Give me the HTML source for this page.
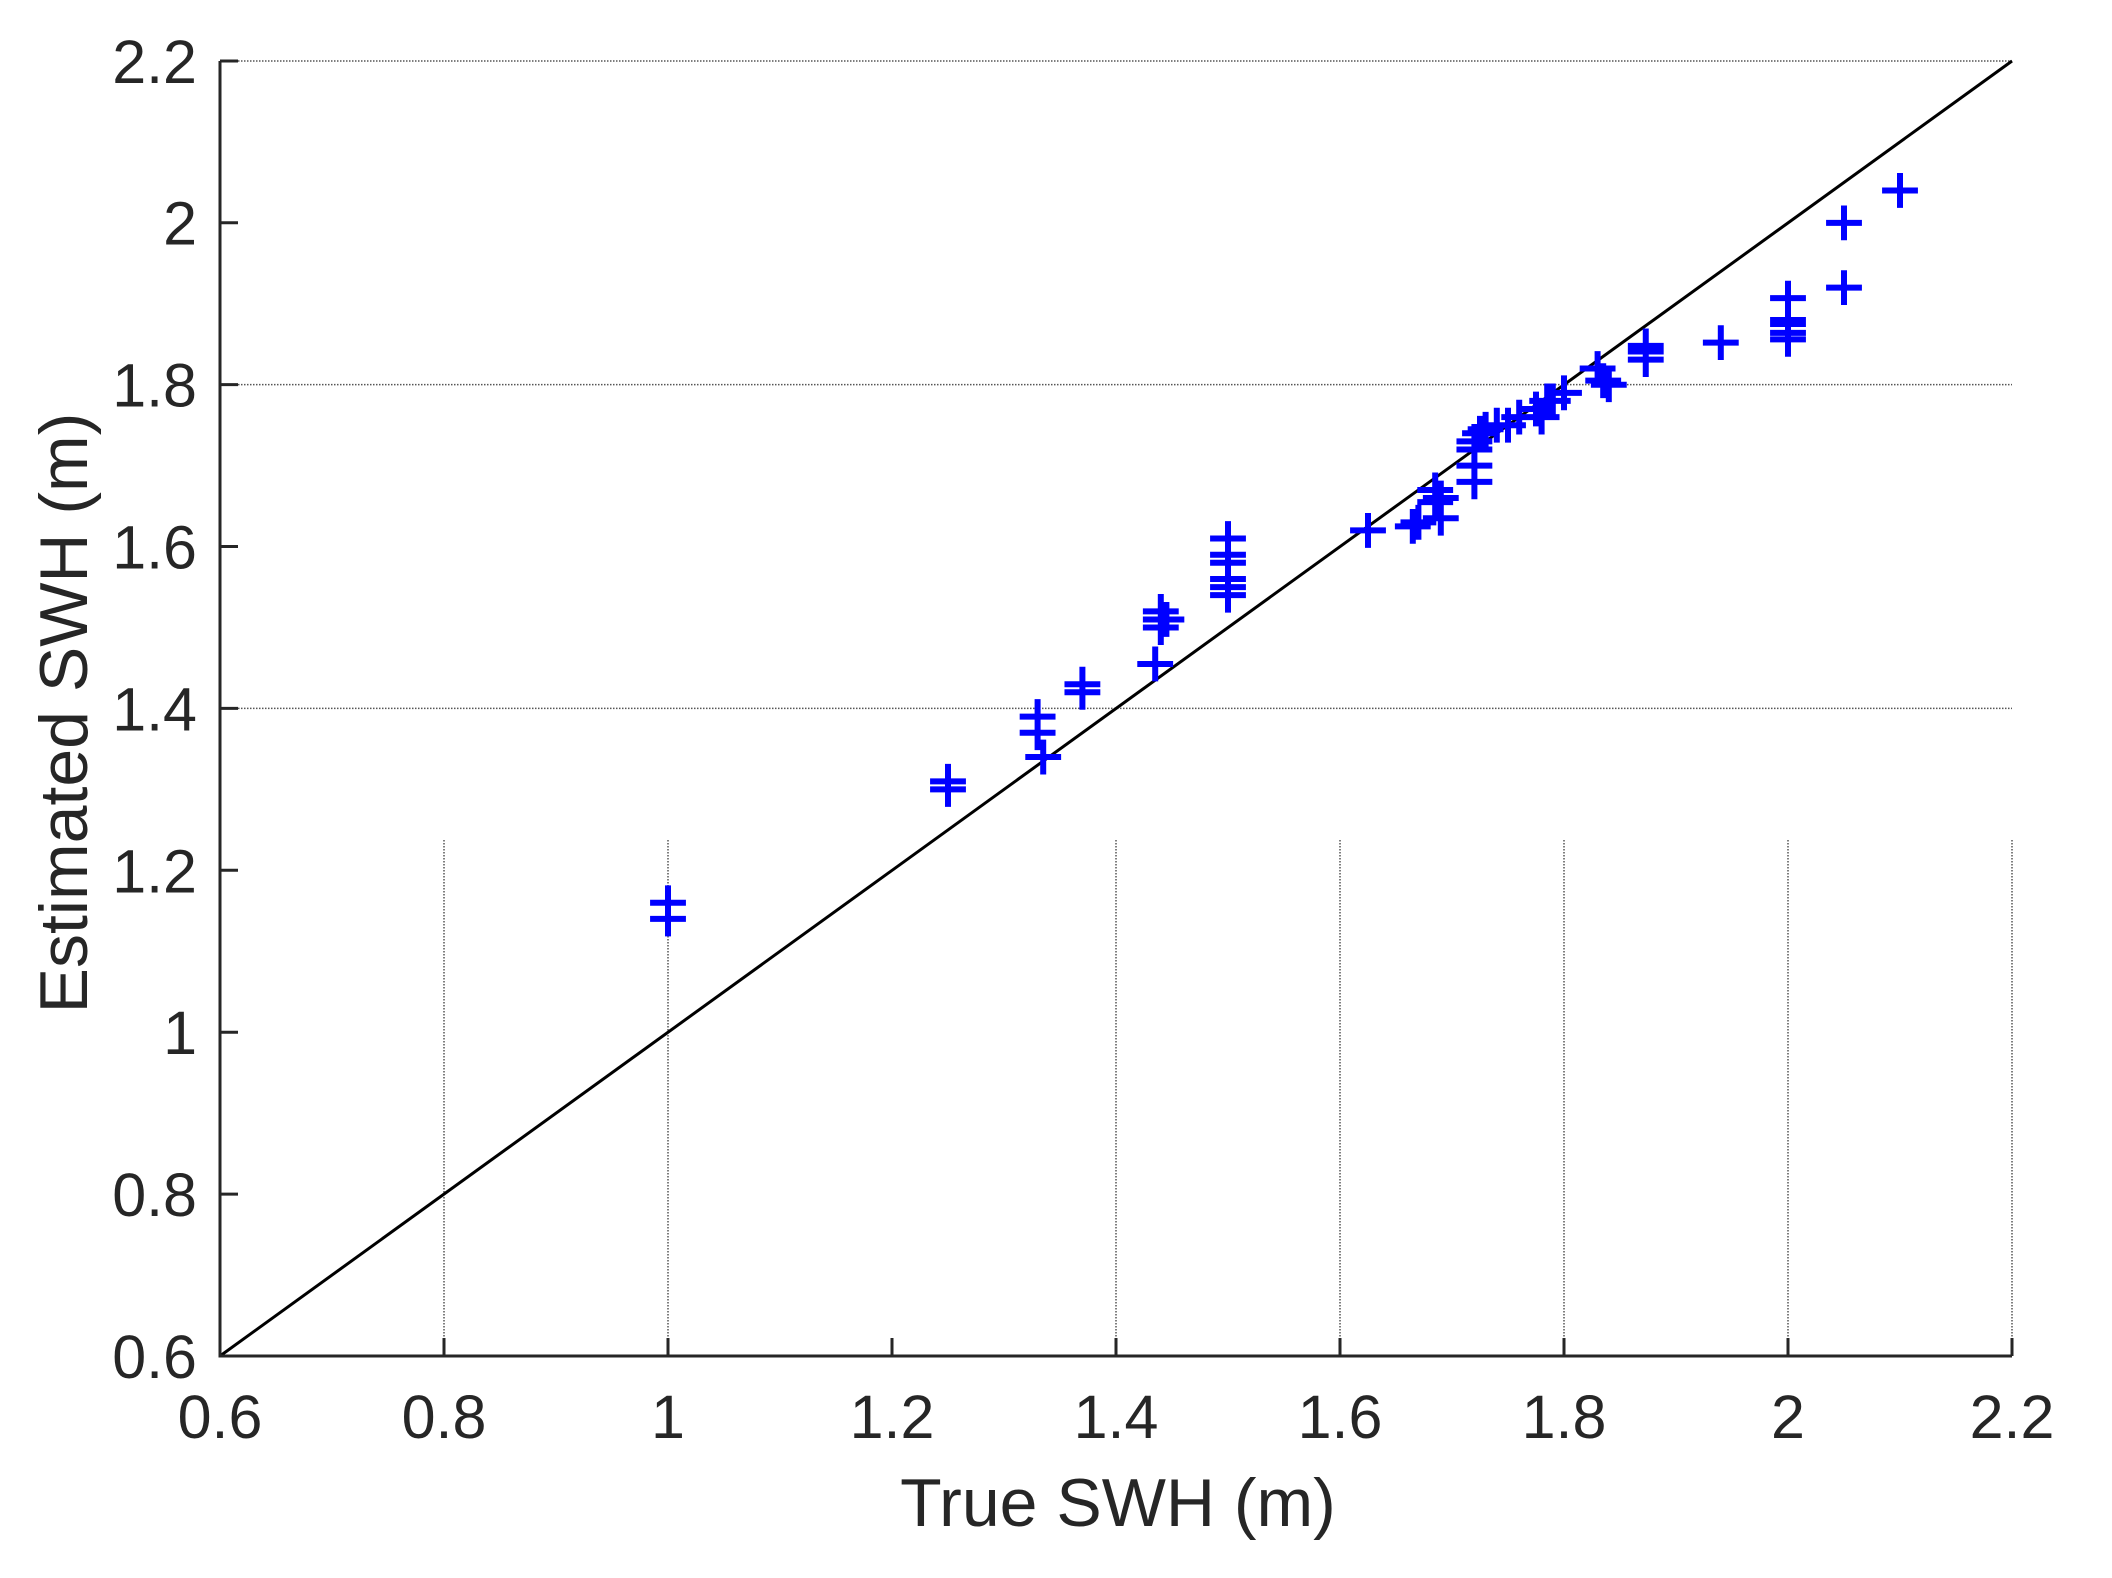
<!DOCTYPE html>
<html><head><meta charset="utf-8"><style>
html,body{margin:0;padding:0;background:#fff;}
svg{display:block;}
text{font-family:"Liberation Sans",Arial,sans-serif;fill:#262626;}
</style></head><body>
<svg width="2112" height="1578" viewBox="0 0 2112 1578" xmlns="http://www.w3.org/2000/svg">
<rect width="2112" height="1578" fill="#fff"/>
<g stroke="#555" stroke-width="1.5" stroke-dasharray="1.5,1.5" fill="none">
<line x1="220" y1="61" x2="2012" y2="61"/>
<line x1="220" y1="384.6" x2="2012" y2="384.6"/>
<line x1="220" y1="708.4" x2="2012" y2="708.4"/>
<line x1="444" y1="840" x2="444" y2="1356"/>
<line x1="668" y1="840" x2="668" y2="1356"/>
<line x1="1116" y1="840" x2="1116" y2="1356"/>
<line x1="1340" y1="840" x2="1340" y2="1356"/>
<line x1="1564" y1="840" x2="1564" y2="1356"/>
<line x1="1788" y1="840" x2="1788" y2="1356"/>
<line x1="2012" y1="840" x2="2012" y2="1356"/>
</g>
<line x1="220" y1="1356" x2="2012" y2="61" stroke="#000" stroke-width="3"/>
<g transform="translate(220,1356) scale(1120,-809.4) translate(-0.6,-0.6)">
<path fill="none" stroke="#0000ff" stroke-width="6" vector-effect="non-scaling-stroke" d="M.984,1.16h.032M1,1.1385v.043M.984,1.14h.032M1,1.1185v.043M1.234,1.31h.032M1.25,1.2885v.043M1.234,1.30h.032M1.25,1.2785v.043M1.314,1.39h.032M1.33,1.3685v.043M1.314,1.37h.032M1.33,1.3485v.043M1.319,1.34h.032M1.335,1.3185v.043M1.354,1.43h.032M1.37,1.4085v.043M1.354,1.42h.032M1.37,1.3985v.043M1.424,1.52h.032M1.44,1.4985v.043M1.424,1.51h.032M1.44,1.4885v.043M1.424,1.50h.032M1.44,1.4785v.043M1.429,1.51h.032M1.445,1.4885v.043M1.419,1.455h.032M1.435,1.4335v.043M1.484,1.61h.032M1.5,1.5885v.043M1.484,1.59h.032M1.5,1.5685v.043M1.484,1.58h.032M1.5,1.5585v.043M1.484,1.56h.032M1.5,1.5385v.043M1.484,1.55h.032M1.5,1.5285v.043M1.484,1.54h.032M1.5,1.5185v.043M1.609,1.62h.032M1.625,1.5985v.043M1.649,1.625h.032M1.665,1.6035v.043M1.654,1.63h.032M1.67,1.6085v.043M1.674,1.635h.032M1.69,1.6135v.043M1.669,1.67h.032M1.685,1.6485v.043M1.674,1.66h.032M1.69,1.6385v.043M1.669,1.655h.032M1.685,1.6335v.043M1.704,1.68h.032M1.72,1.6585v.043M1.704,1.70h.032M1.72,1.6785v.043M1.704,1.72h.032M1.72,1.6985v.043M1.704,1.73h.032M1.72,1.7085v.043M1.709,1.74h.032M1.725,1.7185v.043M1.714,1.745h.032M1.73,1.7235v.043M1.724,1.75h.032M1.74,1.7285v.043M1.734,1.75h.032M1.75,1.7285v.043M1.744,1.76h.032M1.76,1.7385v.043M1.759,1.77h.032M1.775,1.7485v.043M1.764,1.76h.032M1.78,1.7385v.043M1.769,1.78h.032M1.785,1.7585v.043M1.774,1.78h.032M1.79,1.7585v.043M1.784,1.79h.032M1.8,1.7685v.043M1.814,1.82h.032M1.83,1.7985v.043M1.819,1.805h.032M1.835,1.7835v.043M1.824,1.80h.032M1.84,1.7785v.043M1.857,1.848h.032M1.873,1.8265v.043M1.857,1.841h.032M1.873,1.8195v.043M1.857,1.831h.032M1.873,1.8095v.043M1.924,1.852h.032M1.94,1.8305v.043M1.984,1.907h.032M2,1.8855v.043M1.984,1.88h.032M2,1.8585v.043M1.984,1.875h.032M2,1.8535v.043M1.984,1.864h.032M2,1.8425v.043M1.984,1.856h.032M2,1.8345v.043M2.034,2.00h.032M2.05,1.9785v.043M2.034,1.92h.032M2.05,1.8985v.043M2.084,2.04h.032M2.1,2.0185v.043"/>
</g>
<g stroke="#262626" stroke-width="3" fill="none">
<line x1="220" y1="61" x2="220" y2="1357.5"/>
<line x1="218.5" y1="1356" x2="2012" y2="1356"/>
<path d="M220,61h18M220,222.7h18M220,384.6h18M220,546.5h18M220,708.4h18M220,870.3h18M220,1032.2h18M220,1194.1h18"/>
<path d="M444,1356v-18M668,1356v-18M892,1356v-18M1116,1356v-18M1340,1356v-18M1564,1356v-18M1788,1356v-18M2012,1356v-18"/>
</g>
<g font-size="61" text-anchor="end">
<text x="197" y="83">2.2</text>
<text x="197" y="244.7">2</text>
<text x="197" y="406.6">1.8</text>
<text x="197" y="568.5">1.6</text>
<text x="197" y="730.4">1.4</text>
<text x="197" y="892.3">1.2</text>
<text x="197" y="1054.2">1</text>
<text x="197" y="1216.1">0.8</text>
<text x="197" y="1378">0.6</text>
</g>
<g font-size="61" text-anchor="middle">
<text x="220" y="1438">0.6</text>
<text x="444" y="1438">0.8</text>
<text x="668" y="1438">1</text>
<text x="892" y="1438">1.2</text>
<text x="1116" y="1438">1.4</text>
<text x="1340" y="1438">1.6</text>
<text x="1564" y="1438">1.8</text>
<text x="1788" y="1438">2</text>
<text x="2012" y="1438">2.2</text>
</g>
<text x="1118" y="1526" font-size="68" text-anchor="middle">True SWH (m)</text>
<text transform="translate(87,713) rotate(-90)" font-size="68" text-anchor="middle">Estimated SWH (m)</text>
</svg>
</body></html>
